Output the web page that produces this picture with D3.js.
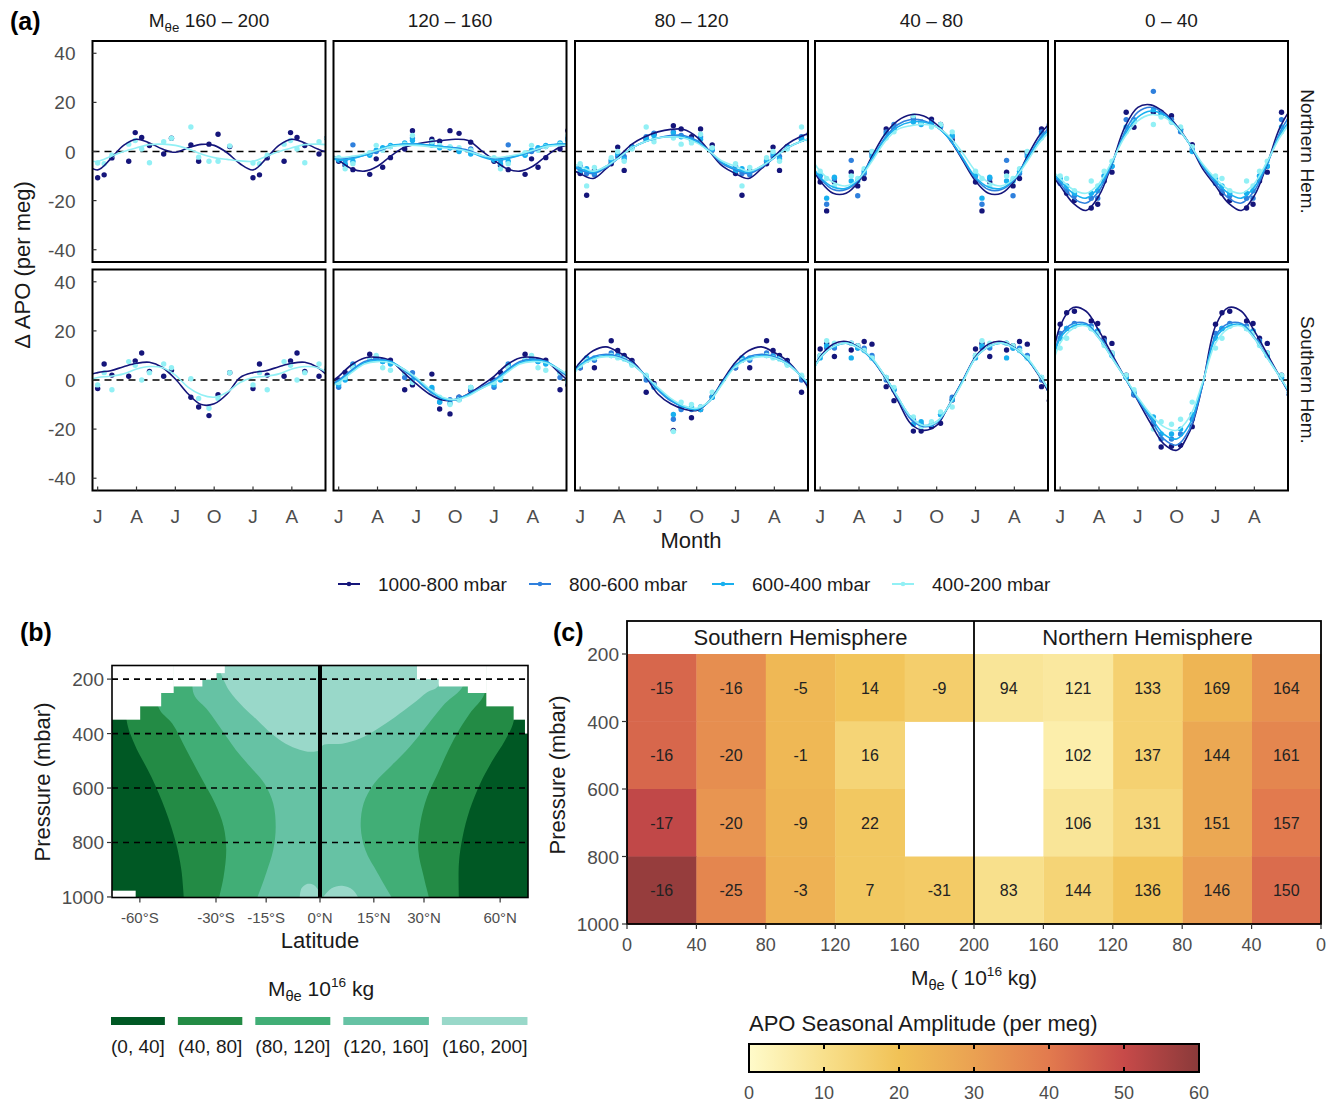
<!DOCTYPE html>
<html>
<head>
<meta charset="utf-8">
<script src="https://cdn.jsdelivr.net/npm/d3@7"></script>
<style>
  body { margin: 0; background: #fff; }
  text { font-family: "Liberation Sans", Arial, Helvetica, sans-serif; }
</style>
</head>
<body>
<svg id="fig" width="1336" height="1103"></svg>
<script>
// ---------- data: panel (a) ----------
const bandTitles = ['160 – 200', '120 – 160', '80 – 120', '40 – 80', '0 – 40']
const hemRows = ['Northern Hem.', 'Southern Hem.']
const levelNames = ['1000-800 mbar', '800-600 mbar', '600-400 mbar', '400-200 mbar']
const levelColors = ['#15157a', '#2f80dd', '#18b0ef', '#92f0f5']
const monthTicks = [0, 3, 6, 9, 12, 15]
const monthLabels = ['J', 'A', 'J', 'O', 'J', 'A']
const apoTicks = [-40, -20, 0, 20, 40]
// sampling times (months after 1 Jan) of the aircraft campaigns
const campaignMonths = [0.0, 0.5, 1.1, 2.4, 2.9, 3.4, 4.0, 5.1, 5.7, 7.2, 7.8, 8.6, 9.3, 10.2]

// fitted seasonal cycle, Jan..Dec; per mass band, per pressure level
const fitNH = [
  [[-7.5,-3,2.5,5,3.5,1,-0.3,1.5,2.9,2.5,-0.5,-5], null, null, [-4,-2,0,1.5,2.8,3,2.5,1,-1,-2.5,-3.2,-3.8]],
  [[-3.5,-7,-8,-6,-2,1.5,3,4,4.5,5,4.5,0.5], [-3,-2.5,-1.5,0,2,3,3,2.5,2,1.5,0.5,-1.5], [-3.5,-3,-1.5,0.5,2.5,3,3,2.5,2,1.2,0,-2], [-2.5,-2,-1,0.5,2,2.5,2.5,2,1.5,1,0,-1.5]],
  [[-9,-11,-7,-2,3,6,8,9,9,6,0,-6], [-7.5,-9,-6.5,-2.5,1.5,4,5.5,6.5,6.5,4.5,0,-5], [-7,-8.5,-6,-2.5,1.5,4,5.5,6,6,4,0,-4.5], [-6,-8,-6,-2.5,1.5,4,5.5,6,5.5,3.5,0,-4]],
  [[-12,-17,-17,-12,-2,7,12.6,15,14.5,11,5,-3.5], [-11,-15.5,-15.5,-11.5,-3,5.5,11,13,12.5,10,5,-3], [-10.5,-14.5,-15,-11,-3,5,10,12,12,10,5,-2.5], [-8,-12.5,-14,-11,-4,4,9,10.5,11,10,6,-0.5]],
  [[-14,-21,-24,-18,-5,10,18,19,16,10.5,3,-7], [-13,-19,-21,-16,-5,8,16,18,15.5,10,3,-6], [-12,-17,-19,-14.5,-4.5,7,14,16.5,15,10,3,-5.5], [-11,-15.5,-17,-13,-4,6,12.5,15,14,10,3,-5]]
]
const fitSH = [
  [[3,3.8,5.4,6.8,7.2,5.1,0.4,-5.7,-10,-9.7,-5.7,1], null, null, [1,1.5,2.5,4.5,5.5,5,2,-3,-6,-7,-5,-1]],
  [[1.5,6.2,9,9.2,7.8,3.1,-1.6,-5.7,-8.1,-8.1,-5.7,-2.3], [0,4,7.5,8.5,7.5,4,0,-4.5,-7.5,-8,-6,-3], [-0.5,3.5,7,8,7.5,4.5,0.5,-4,-7.5,-8,-6,-3.5], [-1,3,6.5,7.5,7,4.5,1,-3.5,-7,-8,-6.5,-3.5]],
  [[7.2,11.9,13.5,11.2,7.8,1.8,-5.7,-9.7,-11.8,-12.4,-8.4,-0.3], [6,9.5,10.5,9.5,7,2,-4,-8.5,-11,-12,-8.5,-1], [6,9,10,9,6.5,2,-3.5,-8,-11,-12,-8.5,-1], [5.5,8.5,9.5,9,6.5,2,-3,-7.5,-10.5,-11.5,-8.5,-1.5]],
  [[9.5,14.6,15.7,13.2,8.5,1,-8.4,-17.8,-20.5,-18.5,-9.7,-0.3], [9,13.5,15,13,8.5,1.5,-7.5,-16,-19,-17.5,-10,-0.5], [9,13.5,15,13,8.5,1.5,-7,-15,-18.5,-17,-10,-0.5], [9,13.5,15,13,9,1.5,-7,-15,-18.5,-17,-10,-1]],
  [[22,29.5,28,20,10.5,1,-8.4,-17.8,-26,-28.6,-21,-2], [18,23,23,17.5,9.5,1,-8,-16,-24,-26.5,-20,-2], [17,22,22.5,17,9,1,-7.5,-15,-22,-24,-18,-1.5], [15,21,22,17,9,1,-7,-14,-19,-20.5,-15,-1]]
]

// observed campaign means at campaignMonths
const obsNH = [
  [[-10.7,-9.5,-2.6,-4,7.7,5.7,2.4,-1,5.4,2.7,-4,3,7,2], null, null, [-4.7,-5,-1.5,3,4.5,1,-4.6,4,5.4,10,-2.3,-4,-4,2.3]],
  [[-4,-5.7,-7.4,-9.3,-3,-6.4,-2.5,1,8.5,5,4.2,8.5,7.4,3.8], [-3,-3.5,2.7,-1,0,1,2,3,5.5,3.5,2,1.5,0.5,1], [-3.5,-5,-4,-1.5,0.5,1.5,2.5,3.5,4.5,2.5,1.5,1.5,0,-1], [-2.5,-7,-5,-0.5,2.5,0.5,2,3,6.5,4,2.5,2,1.5,0.5]],
  [[-9,-17.8,-7.7,-5,1.8,-7.7,2,5,7,10.5,9.2,6,9.2,2.7], [-6,-9,-9.5,-4,-2,-2,2,6,7.5,8,6.5,5,6,0.5], [-8,-7,-8.5,-3.5,-1,-3,1.5,5,6.5,7.5,6,4.5,5,1], [-5,-14,-6.5,-2.5,0,-4,1,10,4,5.5,3,3.5,7,1.5]],
  [[-12.4,-24.2,-12.4,-8.4,-14,-11,-0.3,9.2,9.2,14,12,13.2,11,4.7], [-10,-21.5,-11,-3.6,-18,-9,-1,8,11,13,12,12,10,6], [-9.5,-19,-10.5,-12,-12,-8,-2,7,9.5,12,11,11.5,10.5,6.5], [-8,-11,-14,-10,-11,-7,0,5.5,8,14.5,12,10,11,8]],
  [[-12.4,-17,-20,-23,-21.5,-12,-8.4,16,9.9,16,16,14.6,9,2.8], [-13,-16,-18,-19,-19,-10,-6,13,13,24.5,15,13,8,1], [-11,-14,-17,-17,-16,-10,-6,10,12,17,15,12,9,0], [-10,-11,-16,-12,-14,-8,-4,8,12,11,14,12,10,2]]
]
const obsSH = [
  [[-3.5,6.5,2,1.5,7.8,11,3.5,1.5,4,-7,-11,-14.5,-6,3], null, null, [-2,3,-4,7.5,6,0,3,6.5,5,0.5,-7.5,-11.5,-7.5,3]],
  [[0,3.1,5.4,10.5,9,8,8.1,-4,-2,2.4,-11.8,-13.8,-7,-4.3], [-3,1,6.5,8,8.5,7.5,7,1,3,-4,-9,-8,-7,-4], [-2,0,6,8,9,7.5,6.5,3,0,-3,-9,-9.5,-8,-3], [-1,1,5,8,10,5,4,3,-1,-5,-7,-10,-8,-3]],
  [[5,8,5,16,12,10,8,-5,-1.4,-20.5,-11,-15.4,-12,-6.8], [5,9,8,11,10,9,7,0,-2,-16,-12,-12,-11,-7], [6,9,9,10,9.5,9,6.5,1.5,-3,-14,-11,-11,-12,-7], [6,8,9,10,9,8.5,6,2,-2,-21,-9,-10,-11,-5]],
  [[12.6,14.9,9.6,12.2,14,15.7,14.6,-2.7,-8.4,-20.8,-20.8,-19,-17.6,-8.1], [10,13,13,15,13,13,10,0,-4,-16,-18,-18,-14,-7], [9,14,14,9,13,12,9,1,-4,-18,-17,-18,-14,-8], [10,16,15,15,14,12,9,1,-3,-15,-19,-17,-13,-11]],
  [[22.7,27.4,28,24,23,17,14.9,2,-6,-18,-27.3,-27,-26.6,-19], [19,21,23,22,20,16,11,1,-6,-17,-24,-24,-22,-16], [17,21,22,21,20,15,10,1,-5,-15,-22,-22,-20,-14], [13,17,22,21,19,14,11,2,-4,-20,-17,-18,-16,-9]]
]

// ---------- data: panel (b) ----------
const latTicks = [-60, -30, -15, 0, 15, 30, 60]
const latLabels = ['-60°S', '-30°S', '-15°S', '0°N', '15°N', '30°N', '60°N']
const pressTicks = [200, 400, 600, 800, 1000]
const massBinLabels = ['(0, 40]', '(40, 80]', '(80, 120]', '(120, 160]', '(160, 200]']
const greens = ['#005824', '#238b45', '#41ae76', '#66c2a4', '#99d8c9']
// contour edges [lat, mbar], top to bottom
const edgeSH40 = [[-68.5,150],[-68.4,351],[-63.2,437],[-54.2,559],[-48,681],[-43.8,803],[-41.8,901],[-40.9,1002]]
const edgeSH80 = [[-51,150],[-51,302],[-45.2,364],[-39.9,461],[-35,559],[-30.3,657],[-27.6,742],[-26.8,828],[-27.6,925],[-29,1002]]
const edgeSH120 = [[-37.5,150],[-37.4,254],[-32.6,315],[-28.1,388],[-23.8,461],[-19.6,522],[-15.5,583],[-13,657],[-12.3,742],[-13,828],[-15,913],[-17.5,1002]]
const edgeNH40 = [[69,150],[68.8,351],[62.8,425],[56.1,498],[50.4,583],[46,681],[43.3,779],[41.9,876],[41.9,1002]]
const edgeNH80 = [[53,150],[52.3,254],[46,327],[41.9,388],[38.1,461],[34.5,547],[31,632],[28.8,730],[28.2,828],[29.9,925],[31.6,1002]]
const edgeNH120 = [[44,150],[43.3,227],[36.9,290],[31,370],[25.5,449],[20.2,516],[15.1,583],[12.1,657],[11.3,742],[12.6,828],[16.1,913],[20.2,1002]]
// the (160,200] cap near the tropopause, SH edge then NH edge
const capSH160 = [[-29.5,150],[-25.9,242],[-21.6,303],[-17.5,351],[-13.5,400],[-9.5,437],[-5.6,459],[-2.6,467],[0,462]]
const capNH160 = [[0,462],[0.8,443],[6.1,437],[11.1,418],[16.1,382],[21.2,339],[26.6,290],[31,248],[34.5,227],[36,150]]
const blobSH160 = [[-5.6,1002],[-5.1,968],[-3.6,952],[-1.7,956],[-0.3,980],[-0.2,1002]]
const blobNH160 = [[0.8,1002],[3.2,968],[6.1,959],[9.1,974],[10.6,1002]]
// no data above these pressures: [lat from, lat to, mbar]
const topMask = [[-90,-60.1,349],[-60.1,-50,300],[-50,-44.9,251],[-44.9,-34.6,227],[-34.6,-30,202],[-30,-27.4,178],
                 [27.8,34.8,200],[34.8,45.3,227],[45.3,53.1,251],[53.1,68.6,300],[68.6,80.2,349],[80.2,90,400]]
const bottomMask = [[-90,-62.4,977]]

// ---------- data: panel (c) ----------
const massBins = [[0,40],[40,80],[80,120],[120,160],[160,200]]
const pressBins = [[200,400],[400,600],[600,800],[800,1000]]
const massTicks = [0, 40, 80, 120, 160, 200]
// seasonal amplitude (colour), rows = pressure bins, cols = mass bins
const ampSH = [[44,35,23,19,16],[44,35,23,14,null],[51,33,24,18,null],[58,37,25,18,17]]
const ampNH = [[34,24,15,7,8],[37,28,15,5,null],[40,28,13,8,null],[43,31,19,14,10]]
// printed numbers (phase, days)
const labelSH = [[-15,-16,-5,14,-9],[-16,-20,-1,16,null],[-17,-20,-9,22,null],[-16,-25,-3,7,-31]]
const labelNH = [[164,169,133,121,94],[161,144,137,102,null],[157,151,131,106,null],[150,146,136,144,83]]
const ampStops = [0, 10, 20, 30, 40, 50, 60]
const ampColors = ['#fffbca', '#f8e08c', '#f1c256', '#eaa152', '#e27a4e', '#c74a49', '#8a3a3a']
const ampTicks = [0, 10, 20, 30, 40, 50, 60]

// ================================================================
const svg = d3.select('#fig')
svg.append('rect').attr('width', 1336).attr('height', 1103).attr('fill', '#fff')
const defs = svg.append('defs')
const tickGrey = '#4d4d4d', ink = '#1a1a1a'

function mTheta(t, rest){
  t.append('tspan').text('M')
  t.append('tspan').attr('font-size', '0.7em').attr('dy', 5).text('θe')
  t.append('tspan').attr('dy', -5).text(rest)
}

// ---------------- panel (a) ----------------
svg.append('text').attr('x', 10).attr('y', 30).attr('font-size', 25).attr('font-weight', 'bold').text('(a)')

const aLeft = [92.5, 333.5, 575, 815, 1055], aW = 233, aTop = [41, 269.5], aH = 221

hemRows.forEach((hem, r) => {
  const fits = r ? fitSH : fitNH
  const obs = r ? obsSH : obsNH
  bandTitles.forEach((band, c) => {
    const L = aLeft[c], T = aTop[r]
    const x = d3.scaleLinear().domain([-0.4, 17.6]).range([L, L + aW])
    const y = d3.scaleLinear().domain([-45, 45]).range([T + aH, T])
    const clipId = `clipA${r}${c}`
    defs.append('clipPath').attr('id', clipId).append('rect')
      .attr('x', L).attr('y', T).attr('width', aW).attr('height', aH)
    const g = svg.append('g')
    const inner = g.append('g').attr('clip-path', `url(#${clipId})`)

    inner.append('line').attr('x1', L).attr('x2', L + aW).attr('y1', y(0)).attr('y2', y(0))
      .attr('stroke', '#000').attr('stroke-width', 1.6).attr('stroke-dasharray', '7,5')

    // observations, repeated each year across the window
    obs[c].forEach((vals, k) => {
      if(!vals) return
      const pts = []
      ;[-12, 0, 12].forEach(off => vals.forEach((v, i) => {
        const t = campaignMonths[i] + off
        if(t >= -0.6 && t <= 17.8) pts.push([t, v])
      }))
      inner.selectAll(null).data(pts).enter().append('circle')
        .attr('cx', d => x(d[0])).attr('cy', d => y(d[1])).attr('r', 2.7)
        .attr('fill', levelColors[k])
    })
    // fitted curves
    const line = d3.line().x(d => x(d[0])).y(d => y(d[1])).curve(d3.curveCatmullRom.alpha(0.5))
    fits[c].forEach((vals, k) => {
      if(!vals) return
      const pts = d3.range(-2, 20).map(m => [m, vals[((m % 12) + 12) % 12]])
      inner.append('path').attr('d', line(pts)).attr('fill', 'none')
        .attr('stroke', levelColors[k]).attr('stroke-width', 1.6)
    })

    g.append('rect').attr('x', L).attr('y', T).attr('width', aW).attr('height', aH)
      .attr('fill', 'none').attr('stroke', '#000').attr('stroke-width', 2)

    if(c === 0){
      apoTicks.forEach(v => {
        g.append('line').attr('x1', L).attr('x2', L + 4).attr('y1', y(v)).attr('y2', y(v)).attr('stroke', '#333').attr('stroke-width', 1.2)
        g.append('text').attr('x', L - 17).attr('y', y(v) + 7).attr('text-anchor', 'end')
          .attr('font-size', 19).attr('fill', tickGrey).text(v)
      })
    }
    if(r === 1){
      monthTicks.forEach((m, i) => {
        g.append('line').attr('x1', x(m)).attr('x2', x(m)).attr('y1', T + aH).attr('y2', T + aH - 4).attr('stroke', '#333').attr('stroke-width', 1.2)
        g.append('text').attr('x', x(m)).attr('y', 523).attr('text-anchor', 'middle')
          .attr('font-size', 19).attr('fill', tickGrey).text(monthLabels[i])
      })
    }
    if(r === 0){
      const t = svg.append('text').attr('x', L + aW / 2).attr('y', 27).attr('text-anchor', 'middle')
        .attr('font-size', 19).attr('fill', ink)
      if(c === 0) mTheta(t, ' ' + band)
      else t.text(band)
    }
  })
  const cy = aTop[r] + aH / 2
  svg.append('text').attr('transform', `translate(1301,${cy}) rotate(90)`).attr('text-anchor', 'middle')
    .attr('font-size', 19).attr('fill', ink).text(hem)
})

svg.append('text').attr('transform', 'translate(30,265) rotate(-90)').attr('text-anchor', 'middle')
  .attr('font-size', 22).attr('fill', ink).text('Δ APO (per meg)')
svg.append('text').attr('x', 691).attr('y', 548).attr('text-anchor', 'middle')
  .attr('font-size', 22).attr('fill', ink).text('Month')

// legend (a)
const legX = [338, 529, 712, 892]
levelNames.forEach((name, k) => {
  const lg = svg.append('g')
  lg.append('line').attr('x1', legX[k]).attr('x2', legX[k] + 22).attr('y1', 584).attr('y2', 584)
    .attr('stroke', levelColors[k]).attr('stroke-width', 2)
  lg.append('circle').attr('cx', legX[k] + 11).attr('cy', 584).attr('r', 2.3).attr('fill', levelColors[k])
  lg.append('text').attr('x', legX[k] + 40).attr('y', 591).attr('font-size', 19).attr('fill', ink).text(name)
})

// ---------------- panel (b) ----------------
svg.append('text').attr('x', 20).attr('y', 641).attr('font-size', 25).attr('font-weight', 'bold').text('(b)')
const bL = 112, bR = 528, bT = 665.5, bB = 897.5
const xSin = d3.scaleLinear().domain([-1, 1]).range([bL, bR])
const lx = lat => xSin(Math.sin(lat * Math.PI / 180))
const yB = d3.scaleLinear().domain([150, 1002]).range([bT, bB])
defs.append('clipPath').attr('id', 'clipB').append('rect').attr('x', bL).attr('y', bT).attr('width', bR - bL).attr('height', bB - bT)
const gb = svg.append('g').attr('clip-path', 'url(#clipB)')
const edgeLine = d3.line().x(d => lx(d[0])).y(d => yB(d[1])).curve(d3.curveCatmullRom.alpha(0.5))
const band = (sh, nh) => edgeLine(sh) + edgeLine(nh.slice().reverse()).replace(/^M/, 'L') + 'Z'

gb.append('rect').attr('x', bL).attr('y', bT).attr('width', bR - bL).attr('height', bB - bT).attr('fill', greens[0])
gb.append('path').attr('d', band(edgeSH40, edgeNH40)).attr('fill', greens[1])
gb.append('path').attr('d', band(edgeSH80, edgeNH80)).attr('fill', greens[2])
gb.append('path').attr('d', band(edgeSH120, edgeNH120)).attr('fill', greens[3])
gb.append('path').attr('d', edgeLine(capSH160) + edgeLine(capNH160).replace(/^M/, 'L') + 'Z').attr('fill', greens[4])
;[blobSH160, blobNH160].forEach(bl => gb.append('path').attr('d', edgeLine(bl) + 'Z').attr('fill', greens[4]))

topMask.forEach(m => gb.append('rect').attr('x', lx(m[0])).attr('width', lx(m[1]) - lx(m[0]) + 0.5)
  .attr('y', bT - 1).attr('height', yB(m[2]) - bT + 1).attr('fill', '#fff'))
bottomMask.forEach(m => gb.append('rect').attr('x', lx(m[0])).attr('width', lx(m[1]) - lx(m[0]))
  .attr('y', yB(m[2])).attr('height', bB - yB(m[2])).attr('fill', '#fff'))

pressTicks.slice(0, 4).forEach(p => gb.append('line').attr('x1', bL).attr('x2', bR).attr('y1', yB(p)).attr('y2', yB(p))
  .attr('stroke', '#000').attr('stroke-width', 1.6).attr('stroke-dasharray', '6,5'))
svg.append('line').attr('x1', lx(0)).attr('x2', lx(0)).attr('y1', bT).attr('y2', bB).attr('stroke', '#000').attr('stroke-width', 4)
svg.append('rect').attr('x', bL).attr('y', bT).attr('width', bR - bL).attr('height', bB - bT)
  .attr('fill', 'none').attr('stroke', '#000').attr('stroke-width', 1.6)

pressTicks.forEach(p => {
  svg.append('line').attr('x1', bL - 5).attr('x2', bL).attr('y1', yB(p)).attr('y2', yB(p)).attr('stroke', '#333').attr('stroke-width', 1.2)
  svg.append('text').attr('x', bL - 8).attr('y', yB(p) + 7).attr('text-anchor', 'end').attr('font-size', 19).attr('fill', tickGrey).text(p)
})
latTicks.forEach((lat, i) => {
  svg.append('line').attr('x1', lx(lat)).attr('x2', lx(lat)).attr('y1', bB).attr('y2', bB + 5).attr('stroke', '#333').attr('stroke-width', 1.2)
  svg.append('text').attr('x', lx(lat)).attr('y', 923).attr('text-anchor', 'middle').attr('font-size', 15).attr('fill', tickGrey).text(latLabels[i])
})
svg.append('text').attr('x', lx(0)).attr('y', 948).attr('text-anchor', 'middle').attr('font-size', 22).attr('fill', ink).text('Latitude')
svg.append('text').attr('transform', 'translate(50,782) rotate(-90)').attr('text-anchor', 'middle')
  .attr('font-size', 22).attr('fill', ink).text('Pressure (mbar)')

// legend (b)
const lt = svg.append('text').attr('x', 321).attr('y', 996).attr('text-anchor', 'middle').attr('font-size', 21).attr('fill', ink)
mTheta(lt, ' 10')
lt.append('tspan').attr('font-size', '0.65em').attr('dy', -9).text('16')
lt.append('tspan').attr('dy', 9).text(' kg')
let lgx = 111
massBinLabels.forEach((lab, i) => {
  const t = svg.append('text').attr('x', lgx).attr('y', 1053).attr('font-size', 19).attr('fill', ink).text(lab)
  const w = t.node().getComputedTextLength()
  svg.append('rect').attr('x', lgx).attr('y', 1017).attr('width', w).attr('height', 8).attr('fill', greens[i])
  lgx += w + 13
})

// ---------------- panel (c) ----------------
svg.append('text').attr('x', 553).attr('y', 641).attr('font-size', 25).attr('font-weight', 'bold').text('(c)')
const cL = 627, cMid = 974, cR = 1321, cStripT = 621
const xSH = d3.scaleLinear().domain([0, 200]).range([cL, cMid])
const xNH = d3.scaleLinear().domain([200, 0]).range([cMid, cR])
const yC = d3.scaleLinear().domain([200, 1000]).range([654, 924])
const ampColor = d3.scaleLinear().domain(ampStops).range(ampColors)

;[[xSH, ampSH, labelSH], [xNH, ampNH, labelNH]].forEach(([xs, amp, lab]) => {
  pressBins.forEach((pb, i) => massBins.forEach((mb, j) => {
    if(amp[i][j] == null) return
    const x0 = Math.min(xs(mb[0]), xs(mb[1])), x1 = Math.max(xs(mb[0]), xs(mb[1]))
    svg.append('rect').attr('x', x0).attr('y', yC(pb[0])).attr('width', x1 - x0 + 0.4).attr('height', yC(pb[1]) - yC(pb[0]) + 0.4)
      .attr('fill', ampColor(amp[i][j]))
    svg.append('text').attr('x', (x0 + x1) / 2).attr('y', (yC(pb[0]) + yC(pb[1])) / 2 + 6)
      .attr('text-anchor', 'middle').attr('font-size', 16).attr('fill', '#222').text(lab[i][j])
  }))
})
svg.append('rect').attr('x', cL).attr('y', cStripT).attr('width', cR - cL).attr('height', 654 - cStripT).attr('fill', '#fff')
svg.append('rect').attr('x', cL).attr('y', cStripT).attr('width', cR - cL).attr('height', 924 - cStripT)
  .attr('fill', 'none').attr('stroke', '#000').attr('stroke-width', 1.8)
svg.append('line').attr('x1', cMid).attr('x2', cMid).attr('y1', cStripT).attr('y2', 924).attr('stroke', '#000').attr('stroke-width', 1.8)
svg.append('text').attr('x', (cL + cMid) / 2).attr('y', 645).attr('text-anchor', 'middle').attr('font-size', 22).attr('fill', ink).text('Southern Hemisphere')
svg.append('text').attr('x', (cMid + cR) / 2).attr('y', 645).attr('text-anchor', 'middle').attr('font-size', 22).attr('fill', ink).text('Northern Hemisphere')

pressTicks.forEach(p => {
  svg.append('line').attr('x1', cL - 5).attr('x2', cL).attr('y1', yC(p)).attr('y2', yC(p)).attr('stroke', '#333').attr('stroke-width', 1.2)
  svg.append('text').attr('x', cL - 8).attr('y', yC(p) + 7).attr('text-anchor', 'end').attr('font-size', 19).attr('fill', tickGrey).text(p)
})
massTicks.forEach(m => {
  svg.append('line').attr('x1', xSH(m)).attr('x2', xSH(m)).attr('y1', 924).attr('y2', 929).attr('stroke', '#333').attr('stroke-width', 1.2)
  svg.append('text').attr('x', xSH(m)).attr('y', 951).attr('text-anchor', 'middle').attr('font-size', 18).attr('fill', tickGrey).text(m)
  if(m === 200) return
  svg.append('line').attr('x1', xNH(m)).attr('x2', xNH(m)).attr('y1', 924).attr('y2', 929).attr('stroke', '#333').attr('stroke-width', 1.2)
  svg.append('text').attr('x', xNH(m)).attr('y', 951).attr('text-anchor', 'middle').attr('font-size', 18).attr('fill', tickGrey).text(m)
})
svg.append('text').attr('transform', 'translate(565,775) rotate(-90)').attr('text-anchor', 'middle')
  .attr('font-size', 22).attr('fill', ink).text('Pressure (mbar)')
const ct = svg.append('text').attr('x', cMid).attr('y', 985).attr('text-anchor', 'middle').attr('font-size', 21).attr('fill', ink)
mTheta(ct, ' ( 10')
ct.append('tspan').attr('font-size', '0.65em').attr('dy', -9).text('16')
ct.append('tspan').attr('dy', 9).text(' kg)')

// colour bar
const cbL = 749, cbR = 1199, cbT = 1044, cbB = 1072
const xCb = d3.scaleLinear().domain([0, 60]).range([cbL, cbR])
const grad = defs.append('linearGradient').attr('id', 'ampGrad')
ampStops.forEach((s, i) => grad.append('stop').attr('offset', `${s / 60 * 100}%`).attr('stop-color', ampColors[i]))
svg.append('text').attr('x', cbL).attr('y', 1031).attr('font-size', 22).attr('fill', ink).text('APO Seasonal Amplitude (per meg)')
svg.append('rect').attr('x', cbL).attr('y', cbT).attr('width', cbR - cbL).attr('height', cbB - cbT)
  .attr('fill', 'url(#ampGrad)').attr('stroke', '#000').attr('stroke-width', 2)
ampTicks.forEach(v => {
  if(v > 0 && v < 60){
    svg.append('line').attr('x1', xCb(v)).attr('x2', xCb(v)).attr('y1', cbT).attr('y2', cbT + 5).attr('stroke', '#000').attr('stroke-width', 2)
    svg.append('line').attr('x1', xCb(v)).attr('x2', xCb(v)).attr('y1', cbB - 5).attr('y2', cbB).attr('stroke', '#000').attr('stroke-width', 2)
  }
  svg.append('text').attr('x', xCb(v)).attr('y', 1099).attr('text-anchor', 'middle').attr('font-size', 18).attr('fill', tickGrey).text(v)
})
</script>
</body>
</html>
